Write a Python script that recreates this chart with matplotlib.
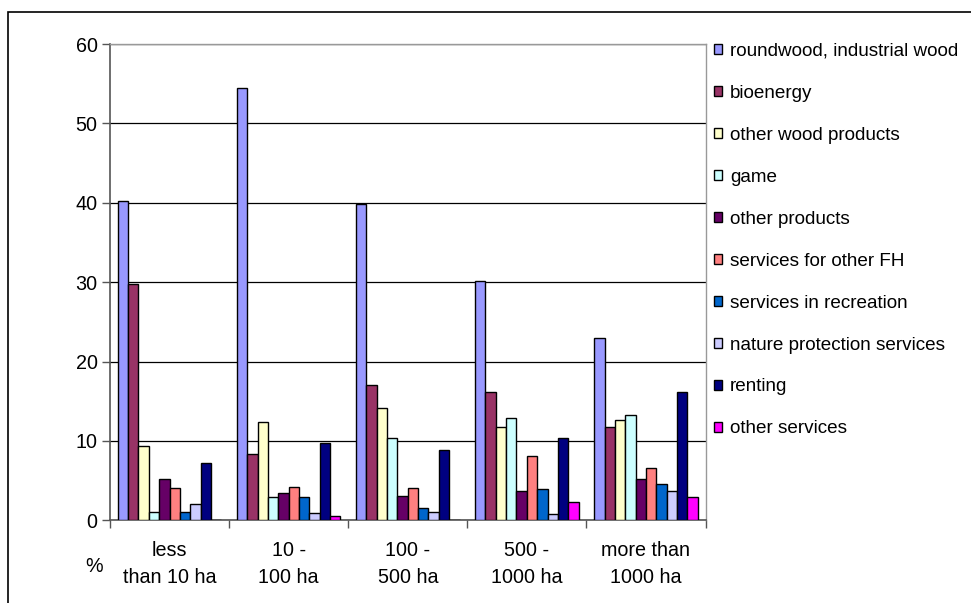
import matplotlib
matplotlib.use("Agg")
from matplotlib import pyplot as plt
from matplotlib.patches import Rectangle
import numpy as np

plt.rcParams['font.family'] = ['Liberation Sans', 'DejaVu Sans']

categories = ["less\nthan 10 ha", "10 -\n100 ha", "100 -\n500 ha", "500 -\n1000 ha", "more than\n1000 ha"]

series_names = [
    "roundwood, industrial wood",
    "bioenergy",
    "other wood products",
    "game",
    "other products",
    "services for other FH",
    "services in recreation",
    "nature protection services",
    "renting",
    "other services",
]

roundwood = [40.2, 54.5, 39.8, 30.1, 23.0]
bioenergy = [29.8, 8.3, 17.0, 16.1, 11.8]
other_wood = [9.3, 12.4, 14.1, 11.8, 12.6]
game = [1.0, 2.9, 10.4, 12.9, 13.3]
other_products = [5.2, 3.5, 3.1, 3.7, 5.2]
services_fh = [4.1, 4.2, 4.1, 8.1, 6.6]
recreation = [1.0, 2.9, 1.5, 3.9, 4.6]
nature = [2.1, 0.9, 1.0, 0.8, 3.7]
renting = [7.2, 9.7, 8.9, 10.4, 16.2]
other_services = [0.0, 0.6, 0.0, 2.3, 2.9]

series_values = [roundwood, bioenergy, other_wood, game, other_products,
                 services_fh, recreation, nature, renting, other_services]

colors = ["#9999FF", "#993366", "#FFFFCC", "#CCFFFF", "#660066",
          "#FF8080", "#0066CC", "#CCCCFF", "#000080", "#FF00FF"]

FS = 14.2
W, H = 971, 603
fig = plt.figure(figsize=(W / 100, H / 100), dpi=100)
ax = fig.add_axes([110 / W, 1 - 520.3 / H, (705.5 - 110) / W, (520.3 - 44) / H])

x = np.arange(len(categories))
n = len(series_values)
width = 1 / (n + 1.5)
for i, (name, vals, col) in enumerate(zip(series_names, series_values, colors)):
    ax.bar(x + (i - (n - 1) / 2) * width, vals, width, color=col,
           edgecolor="black", linewidth=1.0, label=name, zorder=3)

ax.set_xlim(-0.5, len(categories) - 0.5)
ax.set_ylim(0, 60)
ax.set_yticks(range(0, 61, 10))
ax.yaxis.grid(True, color="black", linewidth=0.9, zorder=0)
ax.set_axisbelow(True)

ax.set_xticks(x)
ax.set_xticklabels(categories, fontsize=FS, linespacing=1.5)
ax.set_xticks(np.arange(-0.5, len(categories), 1), minor=True)
ax.tick_params(axis="x", which="major", length=0, pad=15)
ax.tick_params(axis="x", which="minor", length=6, width=1, color="#555555", direction="out")
ax.tick_params(axis="y", length=6, width=1, color="#555555", direction="out", labelsize=FS, pad=3)

for side in ["left", "bottom"]:
    ax.spines[side].set_color("#555555")
    ax.spines[side].set_linewidth(1.2)
for side in ["top", "right"]:
    ax.spines[side].set_color("#999999")
    ax.spines[side].set_linewidth(1.0)

fig.text(94 / W, 1 - 566 / H, "%", fontsize=FS, ha="center", va="center")

fig.legend(loc="upper left", bbox_to_anchor=(714 / W, 1 - 43 / H), frameon=False,
           fontsize=13.6, borderpad=0, borderaxespad=0, labelspacing=1.32,
           handlelength=0.44, handleheight=0.44, handletextpad=0.4)

# outer chart frame
fig.patches.append(Rectangle((8 / W, -0.1), 1.2, 1.1 - 12 / H, transform=fig.transFigure,
                             fill=False, edgecolor="black", linewidth=1.2))

fig.savefig("out.png", dpi=100)
